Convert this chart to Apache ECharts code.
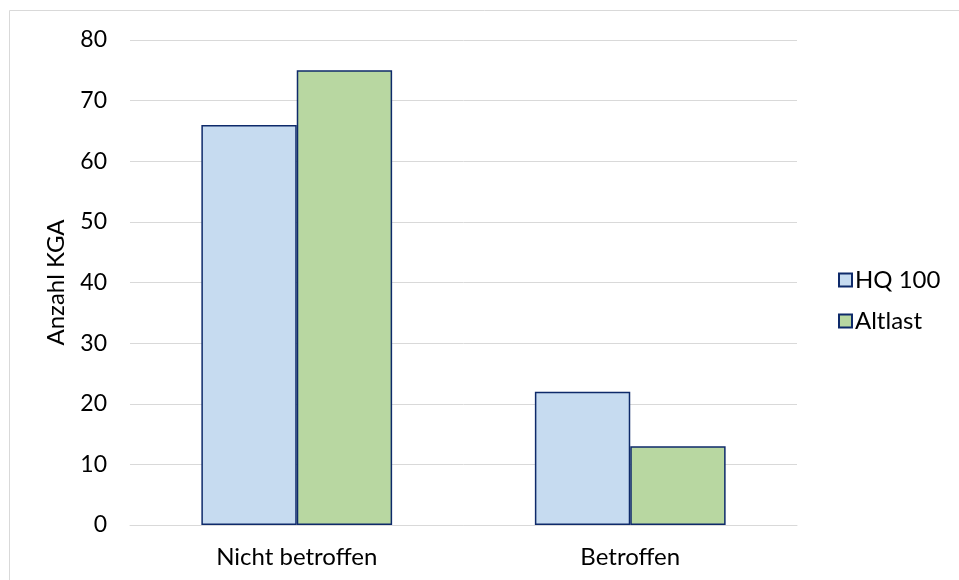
<!DOCTYPE html>
<html><head><meta charset="utf-8">
<script src="https://cdn.jsdelivr.net/npm/echarts@6/dist/echarts.min.js"></script>
<style>html,body{margin:0;padding:0;background:#fff}#c{width:959px;height:580px}</style>
</head><body><div id="c"></div>
<script>
const categories = ['Nicht betroffen', 'Betroffen'];
const hq100 = [66, 22];
const altlast = [75, 13];
const seriesNames = ['HQ 100', 'Altlast'];
const yTicks = {min: 0, max: 80, interval: 10};

const font = 'Lato, "Open Sans", sans-serif';
const chart = echarts.init(document.getElementById('c'));
chart.setOption({
  animation: false,
  textStyle: {fontFamily: font},
  graphic: [{type: 'rect', shape: {x: 9.5, y: 10.5, width: 960, height: 600}, style: {fill: 'none', stroke: '#D9D9D9', lineWidth: 1}, silent: true}],
  grid: {left: 130, right: 162, top: 40, bottom: 55, containLabel: false},
  legend: {
    orient: 'vertical', left: 833, top: 263, itemGap: 17, itemStyle: {borderWidth: 2},
    icon: 'rect', itemWidth: 13, itemHeight: 13,
    textStyle: {fontFamily: font, fontSize: 24, color: '#000', padding: [0, 0, 0, -2]},
    data: seriesNames
  },
  xAxis: {
    type: 'category', data: categories,
    axisLine: {lineStyle: {color: '#D9D9D9', width: 1}},
    axisTick: {show: false},
    axisLabel: {fontFamily: font, fontSize: 24, color: '#000', margin: 20}
  },
  yAxis: {
    type: 'value', min: yTicks.min, max: yTicks.max, interval: yTicks.interval,
    name: 'Anzahl KGA', nameLocation: 'middle', nameGap: 62, nameRotate: 90,
    nameTextStyle: {fontFamily: font, fontSize: 24, color: '#000'},
    axisLine: {show: false}, axisTick: {show: false},
    axisLabel: {fontFamily: font, fontSize: 23, color: '#000', margin: 23},
    splitLine: {lineStyle: {color: '#D9D9D9', width: 1}}
  },
  series: [
    {name: seriesNames[0], type: 'bar', data: hq100, barWidth: '28.6%', barGap: '0%',
     itemStyle: {color: '#C6DBF0', borderColor: '#0E2A6A', borderWidth: 1.5}},
    {name: seriesNames[1], type: 'bar', data: altlast, barWidth: '28.6%', barGap: '0%',
     itemStyle: {color: '#B8D7A1', borderColor: '#0E2A6A', borderWidth: 1.5}}
  ]
});
</script></body></html>
